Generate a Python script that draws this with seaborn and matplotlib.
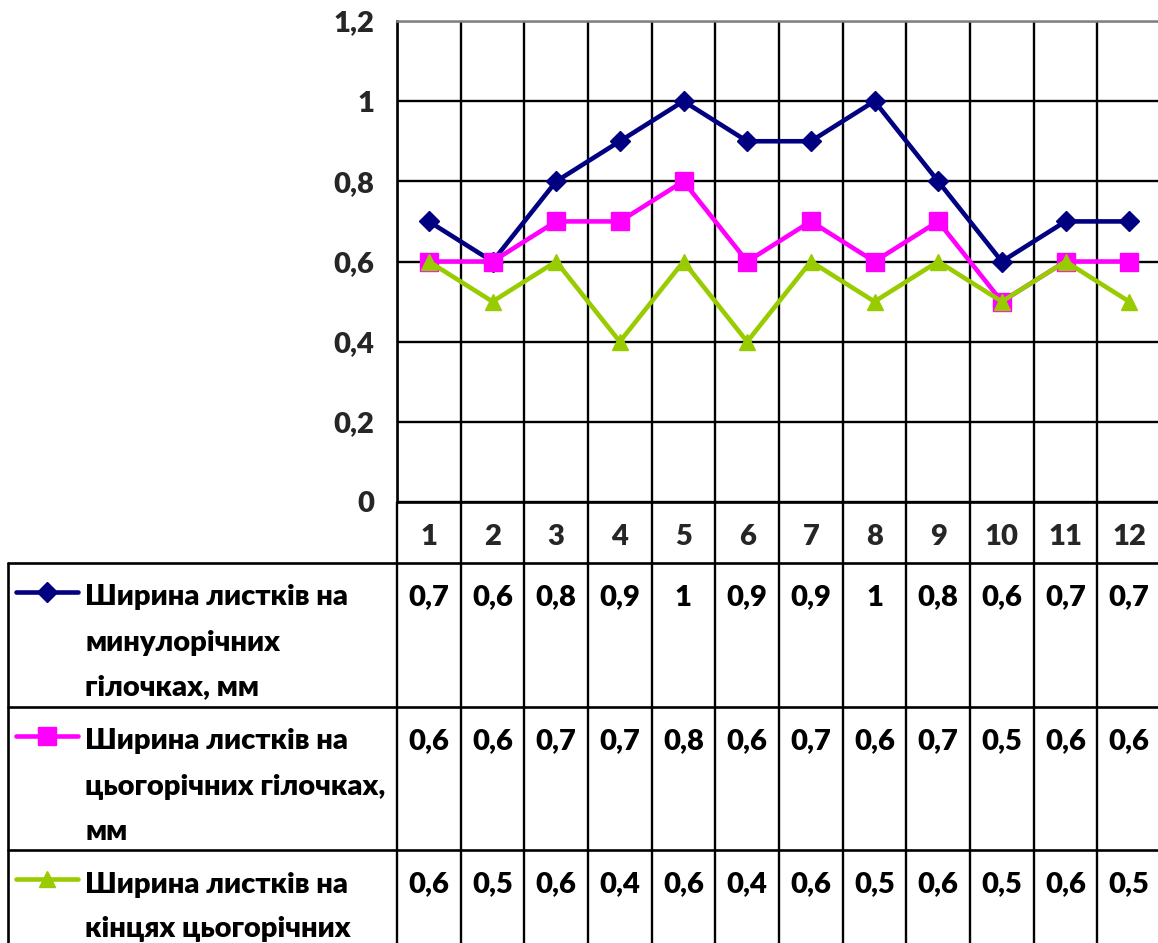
import matplotlib
matplotlib.use("Agg")
import matplotlib.pyplot as plt
from matplotlib.lines import Line2D
from matplotlib.ticker import FixedLocator, FuncFormatter
import seaborn as sns
import pandas as pd

# ---- data -------------------------------------------------------------
categories = [1, 2, 3, 4, 5, 6, 7, 8, 9, 10, 11, 12]
series_names = [
    "Ширина листків на\nминулорічних\nгілочках, мм",
    "Ширина листків на\nцьогорічних гілочках,\nмм",
    "Ширина листків на\nкінцях цьогорічних",
]
last_year_twigs = [0.7, 0.6, 0.8, 0.9, 1.0, 0.9, 0.9, 1.0, 0.8, 0.6, 0.7, 0.7]
this_year_twigs = [0.6, 0.6, 0.7, 0.7, 0.8, 0.6, 0.7, 0.6, 0.7, 0.5, 0.6, 0.6]
twig_tips = [0.6, 0.5, 0.6, 0.4, 0.6, 0.4, 0.6, 0.5, 0.6, 0.5, 0.6, 0.5]
y_ticks = [0, 0.2, 0.4, 0.6, 0.8, 1.0, 1.2]

series_values = [last_year_twigs, this_year_twigs, twig_tips]
colors = ["#000080", "#FF00FF", "#99CC00"]
markers = ["D", "s", "^"]
marker_sizes = [10.5, 13.5, 11.5]
LW = 3.3

df = pd.DataFrame(
    [
        {"category": c, "value": v, "series": name}
        for name, vals in zip(series_names, series_values)
        for c, v in zip(categories, vals)
    ]
)

# ---- style ------------------------------------------------------------
sns.set_theme(style="white")
FONT = ["Lato", "Open Sans", "DejaVu Sans"]
plt.rcParams["font.family"] = FONT
WEIGHT = "heavy"
plt.rcParams["font.weight"] = WEIGHT
FS = 21

W, H = 1158, 943
fig = plt.figure(figsize=(W / 100, H / 100), dpi=100)
fig.patch.set_facecolor("white")


def fx(x):
    return x / W


def fy(y):
    return 1 - y / H


def comma(v):
    return f"{round(v, 1):g}".replace(".", ",")


# ---- chart area -------------------------------------------------------
left_px, right_px, top_px, zero_px = 397, 1161, 21, 502
ax = fig.add_axes([fx(left_px), fy(zero_px), fx(right_px) - fx(left_px), fy(top_px) - fy(zero_px)])

sns.lineplot(
    data=df, x="category", y="value", hue="series", style="series",
    hue_order=series_names, style_order=series_names,
    palette=colors, markers=markers, dashes=False, linewidth=LW,
    legend=False, ax=ax, zorder=5,
)
for line, col, ms in zip(ax.lines, colors, marker_sizes):
    line.set_markersize(ms)
    line.set_markeredgecolor(col)
    line.set_markerfacecolor(col)
    line.set_markeredgewidth(1)

ax.set_xlim(0.5, len(categories) + 0.5)
ax.set_ylim(0, 1.2)
ax.set_xlabel("")
ax.set_ylabel("")

# category labels sit in the header row of the table beneath the chart
ax.set_xticks(categories)
ax.set_xticklabels([str(c) for c in categories], fontsize=FS, fontweight=WEIGHT)
ax.tick_params(axis="x", length=0, pad=16)
boundaries = [c - 0.5 for c in categories] + [categories[-1] + 0.5]
ax.xaxis.set_minor_locator(FixedLocator(boundaries))
ax.tick_params(axis="x", which="minor", length=0)

ax.set_yticks(y_ticks)
ax.yaxis.set_major_formatter(FuncFormatter(lambda v, p: comma(v)))
ax.tick_params(axis="y", direction="out", length=7.5, width=1.5, color="black",
               pad=9, labelsize=FS)
for lab in ax.get_yticklabels():
    lab.set_fontweight(WEIGHT)

ax.grid(False)
ax.grid(True, axis="y", which="major", color="black", linewidth=1.7)
ax.grid(True, axis="x", which="minor", color="black", linewidth=1.7)
ax.set_axisbelow(True)

for side in ["left", "bottom"]:
    ax.spines[side].set_color("black")
    ax.spines[side].set_linewidth(1.9)
ax.spines["top"].set_color("#808080")
ax.spines["top"].set_linewidth(1.8)
ax.spines["right"].set_visible(False)

# ---- data table -------------------------------------------------------
tax = fig.add_axes([fx(left_px), 0, fx(right_px) - fx(left_px), fy(zero_px)], sharex=ax)
tax.set_ylim(H, zero_px)  # y in pixel rows from the top of the figure
tax.axis("off")
tax.vlines(boundaries, zero_px, H, color="black", linewidth=1.7, clip_on=False)

row_tops = [563, 707, 850]
line_gap = 45
table_left = 8

for y in row_tops:
    fig.add_artist(Line2D([fx(table_left), 1.0], [fy(y), fy(y)], color="black",
                          linewidth=1.9, transform=fig.transFigure))
fig.add_artist(Line2D([fx(table_left), fx(table_left)], [fy(row_tops[0]), 0],
                      color="black", linewidth=1.9, transform=fig.transFigure))

for top, name, vals, col, mk, ms in zip(row_tops, series_names, series_values,
                                         colors, markers, marker_sizes):
    first_line = top + 32
    # legend key
    fig.add_artist(Line2D([fx(16), fx(78)], [fy(first_line - 3)] * 2, color=col,
                          linewidth=LW, transform=fig.transFigure))
    fig.add_artist(Line2D([fx(47)], [fy(first_line - 3)], color=col, marker=mk,
                          markersize=ms, markeredgecolor=col, linestyle="none",
                          transform=fig.transFigure))
    # series name, one text per line
    for k, part in enumerate(name.split("\n")):
        fig.text(fx(85), fy(first_line + k * line_gap), part, fontsize=FS,
                 fontweight=WEIGHT, ha="left", va="center_baseline", color="black")
    # values
    for c, v in zip(categories, vals):
        tax.text(c, first_line, comma(v), fontsize=FS, fontweight=WEIGHT,
                 ha="center", va="center_baseline", color="black", clip_on=False)

fig.savefig("out.png", dpi=100, facecolor="white")
